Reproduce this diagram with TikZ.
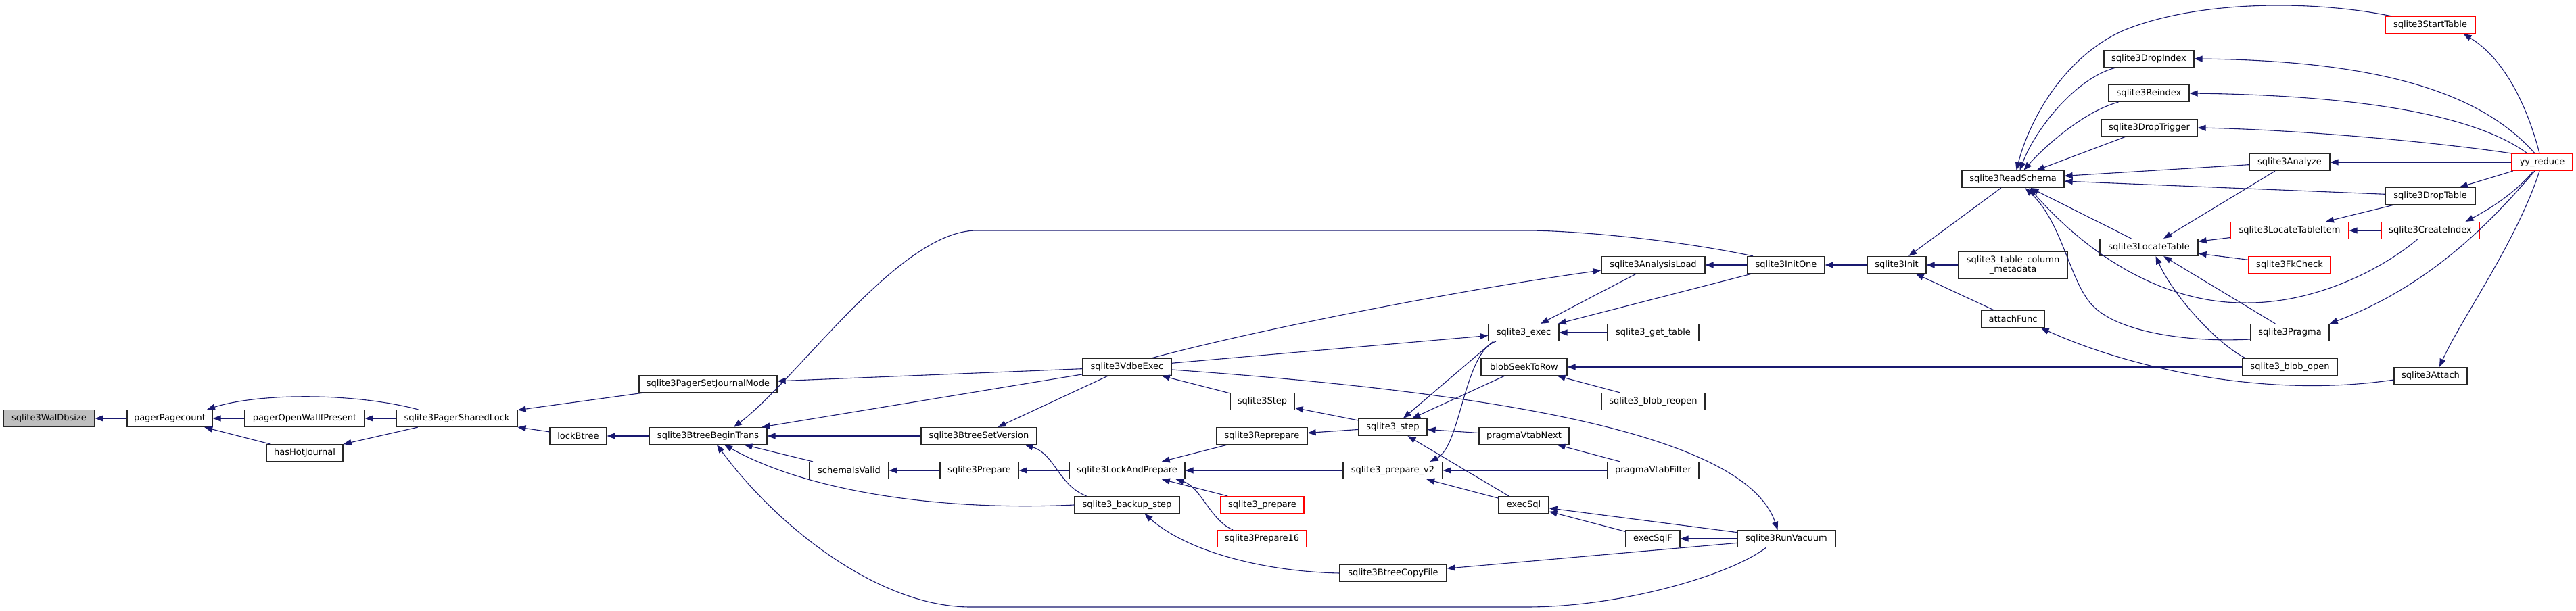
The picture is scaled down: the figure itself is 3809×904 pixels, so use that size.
\documentclass[tikz,border=0pt]{standalone}
\usepackage{fontspec}
\setmainfont{DejaVu Sans}
\usetikzlibrary{arrows.meta}
\definecolor{edgeblue}{HTML}{191970}
\definecolor{cutred}{HTML}{FF0000}
\definecolor{rootgray}{HTML}{BFBFBF}

\begin{document}
\begin{tikzpicture}[x=1pt, y=-1pt, font=\fontsize{13}{14}\selectfont,
    fn/.style={draw=black!85, line width=1.2pt, fill=white, minimum height=25pt, inner sep=0pt},
    cut/.style={fn, draw=cutred},
    root/.style={fn, fill=rootgray},
    call/.style={draw=edgeblue, line width=1.1pt, -{Triangle[length=12pt,width=9pt]}}]

  \useasboundingbox (0,0) rectangle (3809,904);

% ---------------- pager side, left of the lock
  \node[root, minimum width=135pt] (walsize) at (72.5,619) {sqlite3WalDbsize};
  \node[fn, minimum width=126pt] (pagecount) at (251,619) {pagerPagecount};
  \node[fn, minimum width=177pt] (openwal) at (450.5,619) {pagerOpenWalIfPresent};
  \node[fn, minimum width=113pt] (hotjournal) at (450.5,670) {hasHotJournal};
  \node[fn, minimum width=179pt] (sharedlock) at (675.5,619) {sqlite3PagerSharedLock};
  \node[fn, minimum width=204pt] (setjournal) at (1047,568) {sqlite3PagerSetJournalMode};
  \node[fn, minimum width=84pt] (lockbtree) at (855,645) {lockBtree};
  \node[fn, minimum width=174pt] (begintrans) at (1047,645) {sqlite3BtreeBeginTrans};

% ---------------- btree and vdbe
  \node[fn, minimum width=117pt] (schemavalid) at (1255.5,696) {schemaIsValid};
  \node[fn, minimum width=171pt] (setversion) at (1447.5,645) {sqlite3BtreeSetVersion};
  \node[fn, minimum width=116pt] (prepare) at (1448,696) {sqlite3Prepare};
  \node[fn, minimum width=131pt] (vdbeexec) at (1666.5,543) {sqlite3VdbeExec};
  \node[fn, minimum width=171pt] (lockprepare) at (1666.5,696) {sqlite3LockAndPrepare};
  \node[fn, minimum width=155pt] (backupstep) at (1666.5,747) {sqlite3\_backup\_step};
  \node[fn, minimum width=95pt] (vdbestep) at (1866.5,594) {sqlite3Step};
  \node[fn, minimum width=134pt] (reprepare) at (1866,645) {sqlite3Reprepare};
  \node[cut, minimum width=123pt] (sqlprepare) at (1866.5,747) {sqlite3\_prepare};
  \node[cut, minimum width=132pt] (prepare16) at (1866,797) {sqlite3Prepare16};
  \node[fn, minimum width=101pt] (sqlstep) at (2059.5,632) {sqlite3\_step};
  \node[fn, minimum width=147pt] (preparev2) at (2059.5,696) {sqlite3\_prepare\_v2};
  \node[fn, minimum width=158pt] (copyfile) at (2060,848) {sqlite3BtreeCopyFile};

% ---------------- exec, blob, vtab, vacuum
  \node[fn, minimum width=104pt] (sqlexec) at (2253,492) {sqlite3\_exec};
  \node[fn, minimum width=127pt] (seektorow) at (2253.5,543) {blobSeekToRow};
  \node[fn, minimum width=133pt] (vtabnext) at (2253.5,645) {pragmaVtabNext};
  \node[fn, minimum width=74pt] (execsql) at (2253,747) {execSql};
  \node[fn, minimum width=135pt] (gettable) at (2444.5,492) {sqlite3\_get\_table};
  \node[fn, minimum width=153pt] (blobreopen) at (2444.5,594) {sqlite3\_blob\_reopen};
  \node[fn, minimum width=135pt] (vtabfilter) at (2444.5,696) {pragmaVtabFilter};
  \node[fn, minimum width=80pt] (execsqlf) at (2444,797) {execSqlF};
  \node[fn, minimum width=153pt] (analysisload) at (2444.5,392) {sqlite3AnalysisLoad};
  \node[fn, minimum width=114pt] (initone) at (2641,392) {sqlite3InitOne};
  \node[fn, minimum width=145pt] (runvacuum) at (2641.5,797) {sqlite3RunVacuum};

% ---------------- init and schema
  \node[fn, minimum width=87pt] (sqlinit) at (2804.5,392) {sqlite3Init};
  \node[fn, minimum width=161pt, minimum height=40pt, align=center] (tablecolmeta) at (2976.5,392)
    {sqlite3\_table\_column\\\_metadata};
  \node[fn, minimum width=151pt] (readschema) at (2976.5,265) {sqlite3ReadSchema};
  \node[fn, minimum width=93pt] (attachfunc) at (2976.5,472) {attachFunc};
  \node[fn, minimum width=133pt] (dropindex) at (3177.5,87) {sqlite3DropIndex};
  \node[fn, minimum width=119pt] (reindex) at (3177.5,138) {sqlite3Reindex};
  \node[fn, minimum width=142pt] (droptrigger) at (3178,189) {sqlite3DropTrigger};
  \node[fn, minimum width=145pt] (locatetable) at (3177.5,366) {sqlite3LocateTable};
  \node[fn, minimum width=119pt] (analyze) at (3385.5,240) {sqlite3Analyze};
  \node[cut, minimum width=175pt] (locateitem) at (3385.5,341) {sqlite3LocateTableItem};
  \node[cut, minimum width=121pt] (fkcheck) at (3385.5,392) {sqlite3FkCheck};
  \node[fn, minimum width=116pt] (pragma) at (3386,492) {sqlite3Pragma};
  \node[fn, minimum width=140pt] (blobopen) at (3386,543) {sqlite3\_blob\_open};
  \node[cut, minimum width=133pt] (starttable) at (3593.5,37) {sqlite3StartTable};
  \node[fn, minimum width=133pt] (droptable) at (3593.5,290) {sqlite3DropTable};
  \node[cut, minimum width=145pt] (createindex) at (3593.5,341) {sqlite3CreateIndex};
  \node[fn, minimum width=108pt] (attach) at (3594,556) {sqlite3Attach};
  \node[cut, minimum width=90pt] (yyreduce) at (3759,240) {yy\_reduce};

% ---------------- pager edges
  \draw[call] (pagecount) -- (walsize);
  \draw[call] (openwal) -- (pagecount);
  \draw[call] (hotjournal) -- (pagecount);
  \draw[call] ([xshift=-57pt]sharedlock.north) .. controls (520,580) and (380,582) .. ([xshift=55pt]pagecount.north);
  \draw[call] (sharedlock) -- (openwal);
  \draw[call] (sharedlock) -- (hotjournal);
  \draw[call] (setjournal) -- (sharedlock);
  \draw[call] (lockbtree) -- (sharedlock);
  \draw[call] (begintrans) -- (lockbtree);
  \draw[call] (vdbeexec) -- (setjournal);

% ---------------- who opens a transaction
  \draw[call] ([xshift=-49pt]initone.north) .. controls (2480,355) and (2330,341) .. (2257,341) -- (1444,341)
    .. controls (1330,341) and (1180,560) .. ([xshift=38pt]begintrans.north);
  \draw[call] (vdbeexec) -- (begintrans);
  \draw[call] (setversion) -- (begintrans);
  \draw[call] (schemavalid) -- (begintrans);
  \draw[call] (backupstep.west) .. controls (1400,756) and (1200,730) .. ([xshift=24pt]begintrans.south);
  \draw[call] ([xshift=-30pt]runvacuum.south) .. controls (2560,850) and (2400,898) .. (2257,898) -- (1435,898)
    .. controls (1300,898) and (1150,780) .. ([xshift=13pt]begintrans.south);
  \draw[call] (vdbeexec) -- (setversion);
  \draw[call] ([xshift=-60pt]backupstep.north) .. controls (1565,718) and (1560,672) .. ([xshift=-18pt]setversion.south east);
  \draw[call] (prepare) -- (schemavalid);
  \draw[call] (lockprepare) -- (prepare);
  \draw[call] (vdbestep) -- (vdbeexec);
  \draw[call] (reprepare) -- (lockprepare);
  \draw[call] (preparev2) -- (lockprepare);
  \draw[call] (sqlprepare) -- (lockprepare);
  \draw[call] ([xshift=-43pt]prepare16.north) .. controls (1790,770) and (1775,720) .. ([xshift=-14pt]lockprepare.south east);
  \draw[call] (copyfile.west) .. controls (1880,846) and (1760,820) .. ([xshift=26pt]backupstep.south);

% ---------------- back edges out of the vdbe
  \draw[call] ([xshift=36pt]vdbeexec.north) .. controls (1850,490) and (2150,430) .. ([yshift=-8pt]analysisload.west);
  \draw[call] (vdbeexec) -- (sqlexec);
  \draw[call] ([yshift=-4pt]vdbeexec.east) .. controls (2200,580) and (2580,640) .. ([xshift=-13pt]runvacuum.north);

% ---------------- step, prepare_v2, exec
  \draw[call] (sqlstep) -- (vdbestep);
  \draw[call] (sqlstep) -- (reprepare);
  \draw[call] ([xshift=-45pt]sqlexec.south) -- (sqlstep);
  \draw[call] (seektorow) -- (sqlstep);
  \draw[call] (vtabnext) -- (sqlstep);
  \draw[call] (execsql) -- (sqlstep);
  \draw[call] ([xshift=-41pt]sqlexec.south) .. controls (2165,520) and (2160,660) .. ([xshift=55pt]preparev2.north);
  \draw[call] (vtabfilter) -- (preparev2);
  \draw[call] (execsql) -- (preparev2);
  \draw[call] (gettable) -- (sqlexec);
  \draw[call] (analysisload) -- (sqlexec);
  \draw[call] (initone) -- (sqlexec);
  \draw[call] (initone) -- (analysisload);
  \draw[call] (blobopen) -- (seektorow);
  \draw[call] (blobreopen) -- (seektorow);
  \draw[call] (vtabfilter) -- (vtabnext);
  \draw[call] (runvacuum) -- (execsql);
  \draw[call] (execsqlf) -- (execsql);
  \draw[call] (runvacuum) -- (execsqlf);
  \draw[call] (runvacuum) -- (copyfile);

% ---------------- init and schema edges
  \draw[call] (sqlinit) -- (initone);
  \draw[call] (readschema) -- (sqlinit);
  \draw[call] (tablecolmeta) -- (sqlinit);
  \draw[call] (attachfunc) -- (sqlinit);
  \draw[call] ([yshift=-6pt]attach.west) .. controls (3350,590) and (3150,545) .. ([xshift=-6pt]attachfunc.south east);
  \draw[call] ([xshift=10pt]starttable.north west) .. controls (3420,0) and (3250,0) .. (3140,45)
    .. controls (3050,85) and (3000,180) .. ([xshift=5pt]readschema.north);
  \draw[call] ([xshift=18pt]dropindex.south west) .. controls (3070,115) and (3010,190) .. ([xshift=10pt]readschema.north);
  \draw[call] ([xshift=15pt]reindex.south west) .. controls (3080,165) and (3020,220) .. ([xshift=16pt]readschema.north);
  \draw[call] (droptrigger) -- (readschema);
  \draw[call] (analyze) -- (readschema);
  \draw[call] (droptable) -- (readschema);
  \draw[call] (locatetable) -- (readschema);
  \draw[call] ([yshift=-10pt]pragma.west) .. controls (3230,507) and (3130,490) .. (3094,452)
    .. controls (3060,416) and (3050,330) .. ([xshift=18pt]readschema.south);
  \draw[call] ([xshift=-19pt]createindex.south) .. controls (3520,400) and (3420,450) .. (3317,448)
    .. controls (3200,448) and (3090,380) .. ([xshift=24pt]readschema.south);

% ---------------- locate table
  \draw[call] (analyze) -- (locatetable);
  \draw[call] (locateitem) -- (locatetable);
  \draw[call] (fkcheck) -- (locatetable);
  \draw[call] (pragma) -- (locatetable);
  \draw[call] ([xshift=5pt]blobopen.north west) .. controls (3280,510) and (3215,440) .. ([xshift=10pt]locatetable.south);
  \draw[call] (droptable) -- (locateitem);
  \draw[call] (createindex) -- (locateitem);

% ---------------- the parser calls everything on the right
  \draw[call] ([xshift=-4pt]yyreduce.north) .. controls (3735,150) and (3700,85) .. ([xshift=49pt]starttable.south);
  \draw[call] ([xshift=-11pt]yyreduce.north) .. controls (3680,150) and (3550,90) .. (dropindex.east);
  \draw[call] ([xshift=-22pt]yyreduce.north) .. controls (3680,185) and (3550,142) .. (reindex.east);
  \draw[call] (yyreduce.north west) .. controls (3600,210) and (3400,192) .. (droptrigger.east);
  \draw[call] (yyreduce) -- (analyze);
  \draw[call] (yyreduce) -- (droptable);
  \draw[call] ([xshift=-13pt]yyreduce.south) .. controls (3720,285) and (3680,310) .. ([xshift=52pt]createindex.north);
  \draw[call] ([xshift=-11pt]yyreduce.south) .. controls (3690,320) and (3600,420) .. (pragma.north east);
  \draw[call] ([xshift=-4pt]yyreduce.south) .. controls (3720,360) and (3640,470) .. ([xshift=13pt]attach.north);
\end{tikzpicture}
\end{document}
